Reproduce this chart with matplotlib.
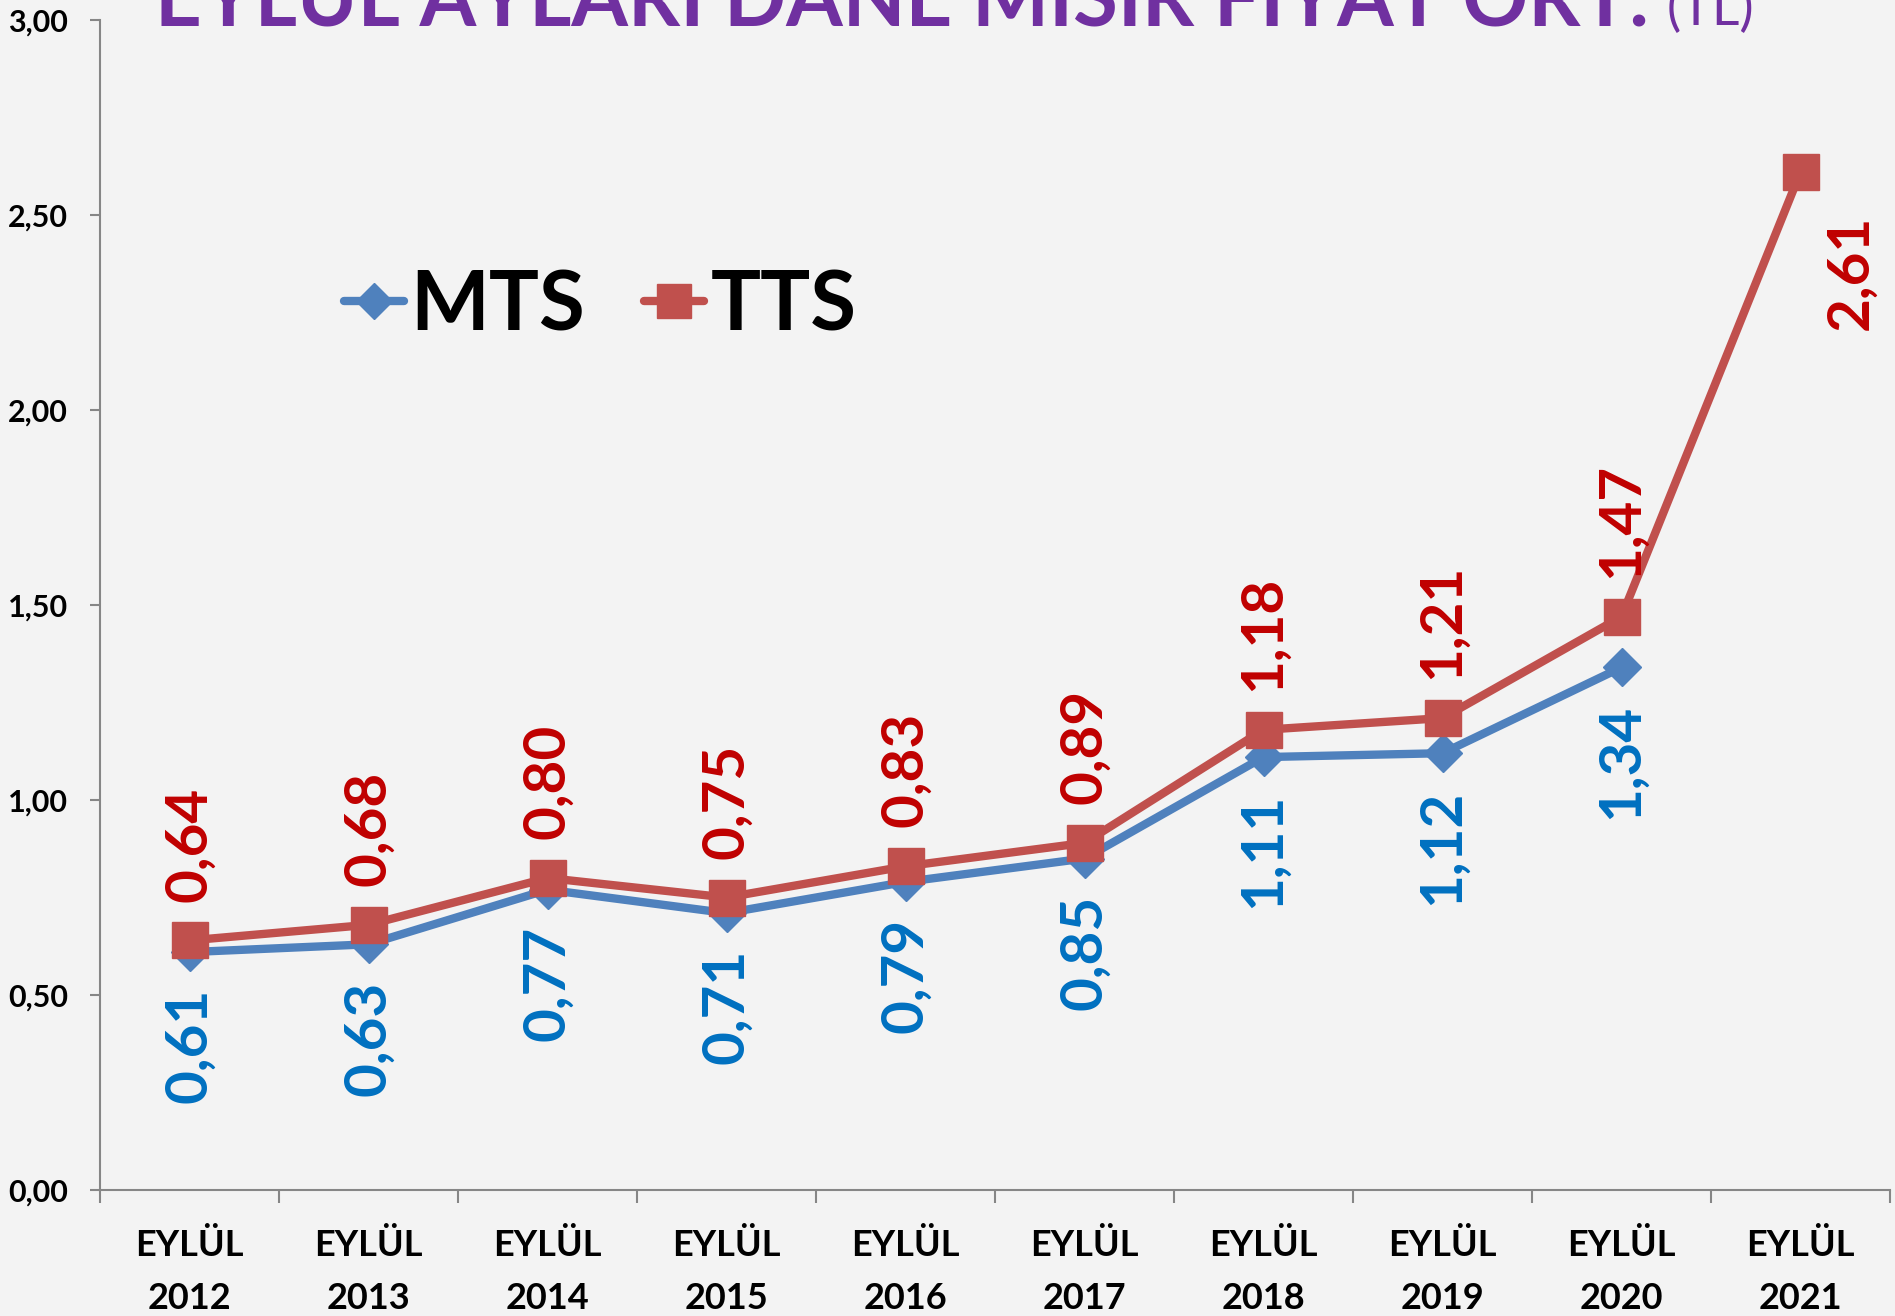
import numpy as np
import matplotlib.pyplot as plt
from matplotlib.ticker import FixedLocator

# Data
years = ["2012", "2013", "2014", "2015", "2016", "2017", "2018", "2019", "2020", "2021"]
mts = [0.61, 0.63, 0.77, 0.71, 0.79, 0.85, 1.11, 1.12, 1.34, np.nan]
tts = [0.64, 0.68, 0.80, 0.75, 0.83, 0.89, 1.18, 1.21, 1.47, 2.61]
x_labels = ["EYLÜL\n" + y for y in years]
y_ticks = [0.0, 0.5, 1.0, 1.5, 2.0, 2.5, 3.0]

blue = "#4F81BD"
red = "#C0504D"
blue_txt = "#0070C0"
red_txt = "#C00000"
purple = "#7030A0"

plt.rcParams["font.family"] = ["Lato", "DejaVu Sans"]

W, H = 1895, 1316
fig = plt.figure(figsize=(W / 100, H / 100), dpi=100, facecolor="#f3f3f3")
ax = fig.add_axes([100 / W, 1 - 1190 / H, 1790 / W, 1170 / H])
ax.set_facecolor("none")

x = np.arange(len(years))
ax.plot(x, mts, color=blue, lw=6, marker="D", ms=19, solid_capstyle="round",
        solid_joinstyle="round", label="MTS", zorder=3)
ax.plot(x, tts, color=red, lw=6, marker="s", ms=26, solid_capstyle="round",
        solid_joinstyle="round", label="TTS", zorder=4)

def fmt(v):
    return f"{v:.2f}".replace(".", ",")

# data labels
for i, v in enumerate(tts):
    if i == len(tts) - 1:
        ax.annotate(fmt(v), (i, v), xytext=(36, -72), textcoords="offset points",
                    rotation=90, ha="center", va="center", color=red_txt,
                    fontsize=42, fontweight="bold", zorder=5)
    else:
        ax.annotate(fmt(v), (i, v), xytext=(0, 28), textcoords="offset points",
                    rotation=90, ha="center", va="bottom", color=red_txt,
                    fontsize=42, fontweight="bold", zorder=5)
for i, v in enumerate(mts):
    if np.isnan(v):
        continue
    ax.annotate(fmt(v), (i, v), xytext=(0, -26), textcoords="offset points",
                rotation=90, ha="center", va="top", color=blue_txt,
                fontsize=42, fontweight="bold", zorder=5)

# axes
ax.set_xlim(-0.5, len(years) - 0.5)
ax.set_ylim(0, 3)
ax.set_yticks(y_ticks)
ax.set_yticklabels([fmt(t) for t in y_ticks], fontsize=22, fontweight="bold")
ax.set_xticks(x)
ax.set_xticklabels(x_labels, fontsize=26, fontweight="bold", linespacing=1.75)
ax.xaxis.set_minor_locator(FixedLocator(np.arange(-0.5, len(years), 1.0)))
ax.tick_params(axis="x", which="major", length=0, pad=28)
ax.tick_params(axis="x", which="minor", length=9, width=1.5, color="#868686")
ax.tick_params(axis="y", length=7, width=1.5, color="#868686", pad=16)

for s in ["top", "right"]:
    ax.spines[s].set_visible(False)
for s in ["left", "bottom"]:
    ax.spines[s].set_color("#868686")
    ax.spines[s].set_linewidth(1.5)

# legend
leg = ax.legend(loc="center left", bbox_to_anchor=(344 / W, 1 - 307 / H),
                bbox_transform=fig.transFigure, ncol=2, frameon=False,
                fontsize=60, handlelength=0.72, handletextpad=0.08,
                columnspacing=0.7, borderpad=0, borderaxespad=0, markerscale=0.95)
for t in leg.get_texts():
    t.set_fontweight("bold")

# title (cut at the top of the image like the original)
renderer = fig.canvas.get_renderer()

def fit_text(xpx, ypx, s, width_px, **kw):
    t = fig.text(xpx / W, 1 - ypx / H, s, ha="left", va="baseline", **kw)
    w = t.get_window_extent(renderer).width
    t.set_fontsize(t.get_fontsize() * width_px / w)
    return t

fit_text(155, 25, "EYLÜL AYLARI DANE MISIR FİYAT ORT.", 1495, color=purple,
         fontsize=54, fontweight="bold")
fit_text(1667, 25, "(TL)", 88, color=purple, fontsize=36)

plt.savefig("out.png", dpi=100, facecolor=fig.get_facecolor())
